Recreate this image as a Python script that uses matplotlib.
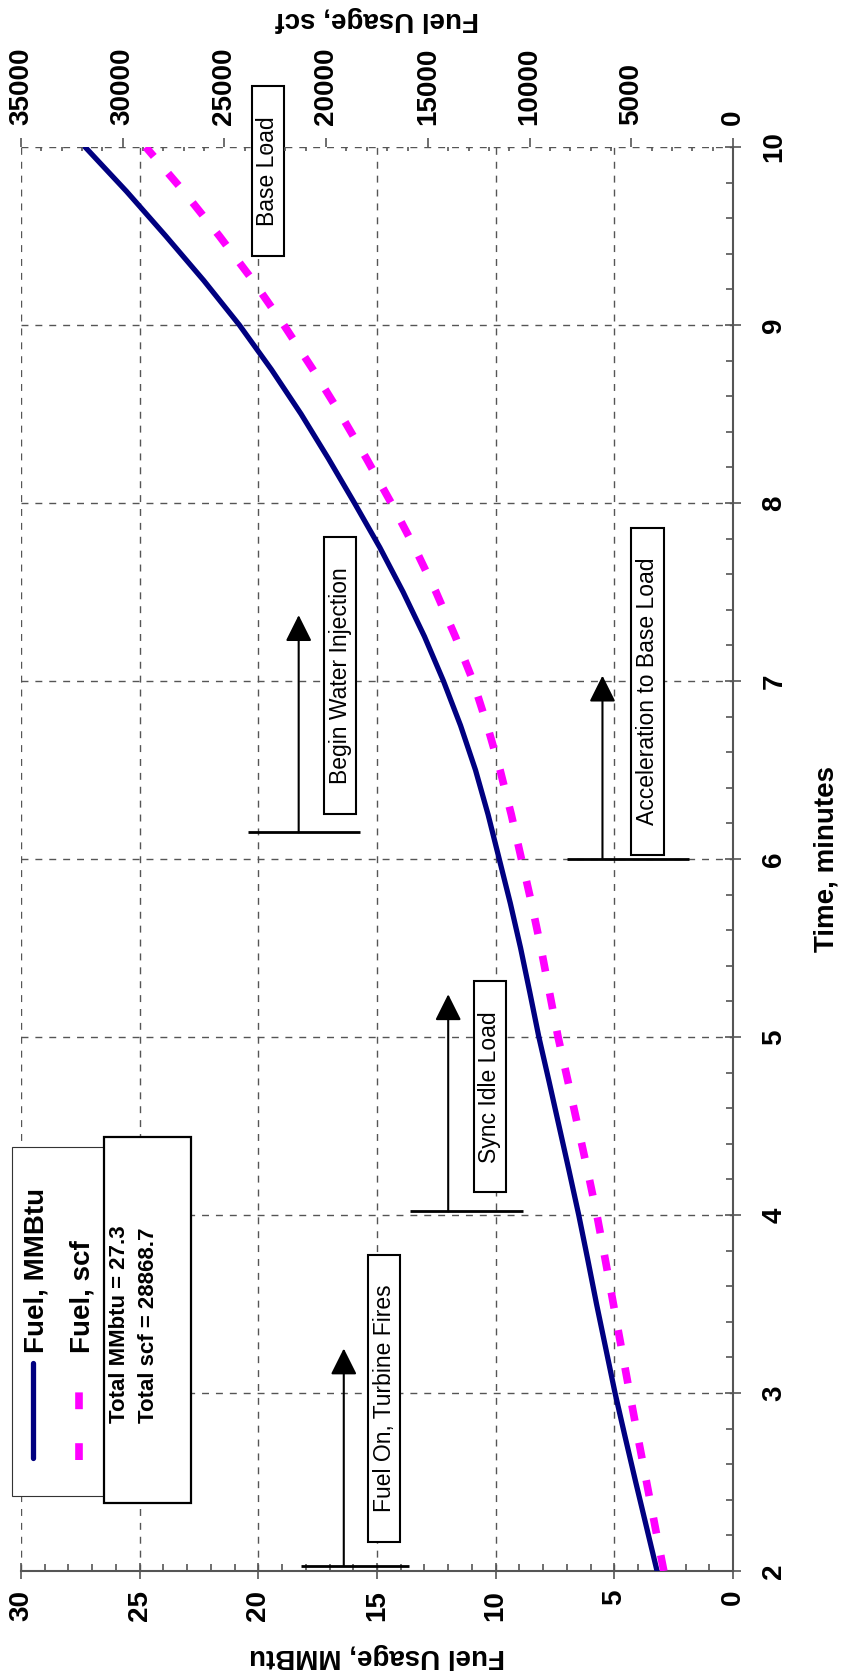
import matplotlib
matplotlib.use("Agg")
import matplotlib.pyplot as plt
from matplotlib.ticker import MultipleLocator
from matplotlib.lines import Line2D
from matplotlib.patches import Rectangle
from matplotlib.path import Path

plt.rcParams['font.family'] = ['Liberation Sans', 'DejaVu Sans']
plt.rcParams['font.weight'] = 'bold'

# data (cumulative fuel use vs time)
time_min = [2.0, 2.25, 2.5, 2.75, 3.0, 3.25, 3.5, 3.75, 4.0, 4.25, 4.5, 4.75, 5.0, 5.25, 5.5, 5.75,
            6.0, 6.25, 6.5, 6.75, 7.0, 7.25, 7.5, 7.75, 8.0, 8.25, 8.5, 8.75, 9.0, 9.25, 9.5, 9.75, 10.0]
fuel_mmbtu = [3.2, 3.65, 4.1, 4.54, 4.97, 5.36, 5.75, 6.12, 6.5, 6.91, 7.33, 7.75, 8.18, 8.56, 8.95, 9.38,
              9.85, 10.32, 10.85, 11.48, 12.2, 13.0, 13.9, 14.88, 15.95, 17.05, 18.2, 19.45, 20.8, 22.3,
              23.9, 25.55, 27.3]
fuel_scf = [3400, 3830, 4250, 4670, 5080, 5480, 5880, 6280, 6690, 7150, 7630, 8110, 8600, 9020, 9440, 9900,
            10400, 10900, 11450, 12080, 12780, 13650, 14600, 15650, 16800, 18020, 19300, 20650, 22080, 23600,
            25250, 27000, 28868.7]

total_mmbtu = 27.3
total_scf = 28868.7

# events: base time, arrow tip time, arrow position (MMBtu), base bar extent (MMBtu)
event_labels = ["Fuel On, Turbine Fires", "Sync Idle Load", "Begin Water Injection", "Acceleration to Base Load"]
event_base_time = [2.03, 4.02, 6.15, 6.0]
event_tip_time = [3.25, 5.24, 7.37, 7.03]
event_arrow_mmbtu = [16.4, 12.0, 18.3, 5.5]
event_bar_from = [18.2, 13.6, 20.45, 7.0]
event_bar_to = [13.65, 8.85, 15.7, 1.85]
# label boxes (MMBtu, time)
box_labels = event_labels + ["Base Load"]
box_mmbtu = [14.7, 10.25, 16.55, 3.6, 19.6]
box_time = [2.97, 4.72, 7.03, 6.94, 9.865]

W, H = 841, 1679


def fpt(x, y):
    return x / W, 1 - y / H


def label_box(x0, y0, width, height, mutation_size):
    # wider padding along the text than across it
    pw = 1.3 * mutation_size
    ph = 0.2 * mutation_size
    return Path([(x0 - pw, y0 - ph), (x0 + width + pw, y0 - ph),
                 (x0 + width + pw, y0 + height + ph), (x0 - pw, y0 + height + ph),
                 (x0 - pw, y0 - ph)], closed=True)


fig = plt.figure(figsize=(W / 100, H / 100), dpi=100)
ax = fig.add_axes([21 / W, 1 - 1571 / H, 712 / W, 1424 / H])

ax.plot(fuel_mmbtu, time_min, color='#000080', lw=3.8, solid_capstyle='round', zorder=5)

ax.set_xlim(30, 0)
ax.set_ylim(2, 10)
ax.xaxis.set_major_locator(MultipleLocator(5))
ax.xaxis.set_minor_locator(MultipleLocator(1))
ax.yaxis.set_major_locator(MultipleLocator(1))
ax.yaxis.set_minor_locator(MultipleLocator(0.2))
ax.yaxis.tick_right()
ax.yaxis.set_label_position('right')

for s in ['top', 'left']:
    ax.spines[s].set_visible(False)
for s in ['bottom', 'right']:
    ax.spines[s].set_color('#555555')
    ax.spines[s].set_linewidth(1.5)

ax.grid(True, which='major', color='#555555', lw=1, linestyle=(0, (5, 5)))
ax.tick_params(axis='x', which='major', direction='inout', length=11, width=1.2, color='#555555',
               pad=8, labelrotation=90, labelsize=20)
ax.tick_params(axis='y', which='major', direction='inout', length=11, width=1.2, color='#555555',
               pad=15, labelrotation=90, labelsize=20)
ax.tick_params(which='minor', direction='in', length=5, width=1.2, color='#555555')
for t in ax.yaxis.get_major_ticks():
    t.label2.set_va('center')

ax.set_xlabel('Fuel Usage, MMBtu', fontsize=20, fontweight='bold', rotation=180, va='center')
ax.xaxis.set_label_coords(0.5, -0.0597)
ax.set_ylabel('Time, minutes', fontsize=20, fontweight='bold', rotation=90, va='center')
ax.yaxis.set_label_coords(1.131, 0.5)

# secondary axis for scf
ax2 = ax.twiny()
ax2.plot(fuel_scf, time_min, color='#FF00FF', lw=5.5, linestyle=(0, (2.1, 2.9)),
         dash_capstyle='butt', zorder=5)
ax2.set_xlim(35000, 0)
ax2.xaxis.set_major_locator(MultipleLocator(5000))
ax2.xaxis.set_minor_locator(MultipleLocator(1000))
for s in ax2.spines.values():
    s.set_visible(False)
ax2.tick_params(axis='x', which='major', direction='out', length=6.5, width=1.2, color='#555555',
                pad=9, labelrotation=90, labelsize=20)
ax2.tick_params(axis='x', which='minor', direction='in', length=3, width=1.2, color='#555555')
ax2.set_xlabel('Fuel Usage, scf', fontsize=20, fontweight='bold', rotation=180, va='center')
ax2.xaxis.set_label_coords(0.5, 1.09)

# event arrows
for bt, tt, xa, b0, b1 in zip(event_base_time, event_tip_time, event_arrow_mmbtu,
                              event_bar_from, event_bar_to):
    ax.hlines(bt, b0, b1, color='black', lw=2, zorder=4)
    ax.annotate('', xy=(xa, tt), xytext=(xa, bt),
                arrowprops=dict(arrowstyle='-|>,head_length=0.9,head_width=0.45',
                                mutation_scale=18, color='black', lw=1.5,
                                shrinkA=0, shrinkB=0), zorder=4)

for lbl, xb, tb in zip(box_labels, box_mmbtu, box_time):
    ax.text(xb, tb, lbl, rotation=90, ha='center', va='center', fontsize=16.5,
            fontweight='normal', clip_on=False, zorder=6,
            bbox=dict(boxstyle=label_box, fc='white', ec='black', lw=1.5))

# legend block
fig.add_artist(Rectangle(fpt(12, 1496), (180 - 12) / W, (1496 - 1147) / H,
                         transform=fig.transFigure, fc='white', ec='#333333', lw=0.8, zorder=3))
fig.add_artist(Rectangle(fpt(104, 1503), (191 - 104) / W, (1503 - 1137) / H,
                         transform=fig.transFigure, fc='white', ec='black', lw=1.6, zorder=4))
x0, y0 = fpt(33, 1458)
x1, y1 = fpt(33, 1363)
fig.add_artist(Line2D([x0, x1], [y0, y1], transform=fig.transFigure, color='#000080',
                      lw=3.8, solid_capstyle='round', zorder=5))
x0, y0 = fpt(79, 1460)
x1, y1 = fpt(79, 1392)
fig.add_artist(Line2D([x0, x1], [y0, y1], transform=fig.transFigure, color='#FF00FF',
                      lw=5.5, linestyle=(0, (2.2, 4.45)), dash_capstyle='butt', zorder=5))

for x, txt in [(37, 'Fuel, MMBtu'), (82, 'Fuel, scf')]:
    fx, fy = fpt(x, 1353)
    fig.text(fx, fy, txt, rotation=90, rotation_mode='anchor', ha='left', va='center',
             fontsize=20, zorder=6)
for x, txt in [(119, f'Total MMbtu = {total_mmbtu}'), (149, f'Total scf = {total_scf}')]:
    fx, fy = fpt(x, 1423)
    fig.text(fx, fy, txt, rotation=90, rotation_mode='anchor', ha='left', va='center',
             fontsize=16, zorder=6)

fig.savefig('out.png', dpi=100)
